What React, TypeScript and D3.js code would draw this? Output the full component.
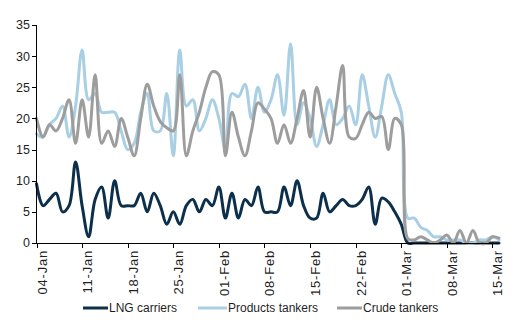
import React from "react";
import * as d3 from "d3";

// Daily observations, 04-Jan-2022 .. 16-Mar-2022
const START = new Date(2022, 0, 4);
const END = new Date(2022, 2, 16);

const X_TICK_LABELS = ["04-Jan", "11-Jan", "18-Jan", "25-Jan", "01-Feb", "08-Feb", "15-Feb", "22-Feb", "01-Mar", "08-Mar", "15-Mar"];
const Y_TICKS = [0, 5, 10, 15, 20, 25, 30, 35];

const LNG_CARRIERS = [
  9.5, 6, 7, 8, 5, 6, 13, 6, 1, 7, 9, 4, 10, 6, 6, 6, 8, 5, 8, 6,
  3, 5, 3, 6, 7, 5, 7, 6, 9, 4, 8, 4, 7, 6, 9, 5, 5, 5, 9, 6,
  10, 6, 4, 4, 8, 5, 6, 7, 6, 6, 7, 9, 3, 7.2, 6.6, 5, 3, 0, 0, 0,
  0, 0, 0, 0, 0, 0, 0, 0, 0, 0, 0, 0,
];

const PRODUCTS_TANKERS = [
  17.5, 17, 19, 20, 22, 17, 22, 31, 23, 24, 21, 21, 21, 18, 15, 16, 21, 24, 18, 18,
  24, 14, 31, 22, 23, 18, 20, 23, 20, 15, 24, 23.5, 25.5, 20, 25, 21, 23, 27, 20.5, 32,
  19, 22.5, 20, 15.5, 19, 23, 19, 20, 22, 19, 27, 22, 17, 22, 27, 24, 21, 4, 4, 2.5,
  2, 1, 1, 0.5, 0.5, 0.5, 0, 0, 0.5, 0.5, 1, 0.5,
];

const CRUDE_TANKERS = [
  20, 17, 19, 18, 20, 23, 16, 23, 17, 27, 16, 18, 15.5, 20, 17, 14, 20, 25.5, 22, 19.5,
  18.5, 18, 27, 14, 18, 21, 25, 27.5, 27, 14, 21, 17, 14, 18, 22.5, 21.5, 20, 16, 19, 16,
  20, 24.5, 17, 25, 20, 16, 22, 28.5, 17, 16.8, 19, 21, 20, 20.3, 15, 20, 19, 0.7, 0.5, 1,
  0.5, 0, 0.5, 1.3, 0, 2, 0, 2, 0, 0, 1, 0.8,
];

const SERIES_NAMES = ["LNG carriers", "Products tankers", "Crude tankers"];
const SERIES_COLORS = ["#0c2f4b", "#a8cfe3", "#9d9d9d"];

const FONT = "Arial, 'Liberation Sans', sans-serif";
const TEXT = "#1f1f1f";

export default function App() {
  const W = 527;
  const H = 333;
  const x = d3.scaleTime().domain([START, END]).range([36.5, 499]);
  const y = d3.scaleLinear().domain([0, 35]).range([243, 25]);

  const dates = LNG_CARRIERS.map((_, i) => d3.timeDay.offset(START, i));
  const tickDates = X_TICK_LABELS.map((_, i) => d3.timeDay.offset(START, i * 7));

  const lineGen = d3
    .line<number>()
    .x((_, i) => x(dates[i]))
    .y((v) => y(v))
    .curve(d3.curveCatmullRom.alpha(0.5));

  const series = [LNG_CARRIERS, PRODUCTS_TANKERS, CRUDE_TANKERS];

  const legendX = [83, 198, 337];
  const legendLineW = [25, 29, 25];

  return (
    <svg
      width={W}
      height={H}
      style={{ position: "absolute", left: 0, top: 0, background: "#fff" }}
      fontFamily={FONT}
    >
      <rect width={W} height={H} fill="#fff" />
      {series.map((vals, k) => (
        <path
          key={k}
          d={lineGen(vals) || ""}
          fill="none"
          stroke={SERIES_COLORS[k]}
          strokeWidth={3}
          strokeLinejoin="round"
          strokeLinecap="round"
        />
      ))}
      <g shapeRendering="crispEdges">
        <line x1={36.5} x2={36.5} y1={y(35)} y2={y(0)} stroke="#000" />
        {Y_TICKS.map((t) => (
          <line key={t} x1={32} x2={36.5} y1={Math.round(y(t)) + 0.5} y2={Math.round(y(t)) + 0.5} stroke="#000" />
        ))}
        <line x1={36.5} x2={499} y1={243.5} y2={243.5} stroke="#000" />
        {tickDates.map((d, i) => (
          <line key={i} x1={Math.round(x(d)) + 0.5} x2={Math.round(x(d)) + 0.5} y1={243.5} y2={248} stroke="#000" />
        ))}
      </g>
      {Y_TICKS.map((t) => (
        <text key={t} x={30} y={y(t) + 4.4} textAnchor="end" fontSize={12.5} fill={TEXT}>
          {t}
        </text>
      ))}
      {tickDates.map((d, i) => (
        <text
          key={i}
          transform={`translate(${x(d) + 10},250) rotate(-90)`}
          textAnchor="end"
          fontSize={13}
          letterSpacing={0.8}
          fill={TEXT}
        >
          {X_TICK_LABELS[i]}
        </text>
      ))}
      {SERIES_NAMES.map((name, k) => (
        <g key={name}>
          <line
            x1={legendX[k]}
            x2={legendX[k] + legendLineW[k]}
            y1={308}
            y2={308}
            stroke={SERIES_COLORS[k]}
            strokeWidth={3}
          />
          <text x={legendX[k] + legendLineW[k] + 1} y={312.3} fontSize={12} fill={TEXT}>
            {name}
          </text>
        </g>
      ))}
    </svg>
  );
}
